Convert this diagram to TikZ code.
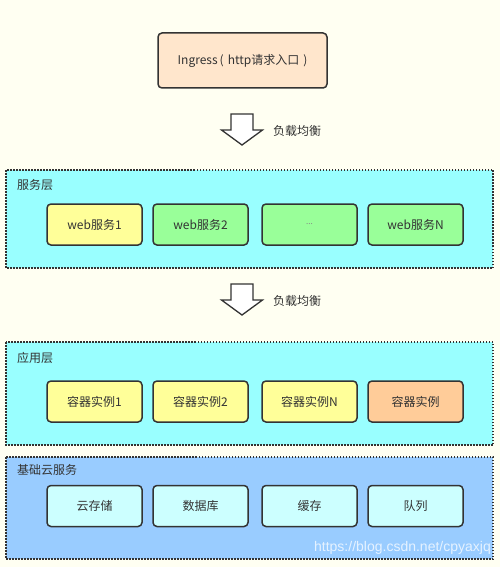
\documentclass[tikz,border=0pt]{standalone}
\usepackage{fontspec}
\setmainfont{Noto Sans CJK SC}
\newfontfamily\markfont{Liberation Sans}
\usepackage{tikz}
\definecolor{paper}{RGB}{255, 255, 242}
\definecolor{ink}{RGB}{51, 51, 51}
\definecolor{peach}{RGB}{255, 230, 204}
\definecolor{aqua}{RGB}{153, 255, 255}
\definecolor{sky}{RGB}{153, 204, 255}
\definecolor{lemon}{RGB}{255, 255, 153}
\definecolor{mint}{RGB}{153, 255, 153}
\definecolor{apricot}{RGB}{255, 204, 153}
\definecolor{ice}{RGB}{204, 255, 255}

\begin{document}
\begin{tikzpicture}[x=1pt, y=-1pt,
  unit/.style={draw=ink, line width=1.5pt, rounded corners=4pt,
    minimum width=95pt, minimum height=41pt, inner sep=0pt,
    text=ink, font=\fontsize{12}{12}\selectfont},
  layer/.style={draw=ink, line width=1.5pt, dash pattern=on 1.5pt off 1.5pt},
  caption/.style={anchor=west, inner sep=0pt, text=ink,
    font=\fontsize{12}{12}\selectfont},
  bigarrow/.style={draw=ink, line width=1.3pt, fill=white, line join=miter}]

  \fill[paper] (0, 0) rectangle (500, 567);
  \useasboundingbox (0, 0) rectangle (500, 567);

  % entry
  \node[unit, fill=peach, minimum width=169pt, minimum height=55pt]
    (ingress) at (242.5, 60.5) {Ingress\,(\,\,http请求入口\,\,)};

  % load balancing arrows
  \foreach \n/\y in {1/114, 2/284} {
    \begin{scope}[shift={(242, \y)}]
      \draw[bigarrow] (-11, 0) -- (11, 0) -- (11, 16) -- (20.5, 16)
                   -- (0, 31) -- (-20.5, 16) -- (-11, 16) -- cycle;
    \end{scope}
    \node[caption] (lb-\n) at (273, \y + 17) {负载均衡};
  }

  % service layer
  \draw[layer, fill=aqua] (6, 170) rectangle (493, 268);
  \node[caption] (svc-title) at (17, 185) {服务层};
  \foreach \n/\x/\c/\t in {1/94.5/lemon/web服务1, 2/200.5/mint/web服务2,
                           4/415.5/mint/web服务N} {
    \node[unit, fill=\c] (svc-\n) at (\x, 224.5) {\t};
  }
  \node[unit, fill=mint, font=\fontsize{8}{8}\selectfont, text=ink!60]
    (svc-3) at (309.5, 224.5) {...};

  % application layer
  \draw[layer, fill=aqua] (6, 342) rectangle (493, 445);
  \node[caption] (app-title) at (17, 358) {应用层};
  \foreach \n/\x/\c/\t in {1/94.5/lemon/容器实例1, 2/200.5/lemon/容器实例2,
                           3/309.5/lemon/容器实例N, 4/415.5/apricot/容器实例} {
    \node[unit, fill=\c] (app-\n) at (\x, 401.5) {\t};
  }

  % base cloud services
  \draw[layer, fill=sky] (6, 457) rectangle (493, 559);
  \node[caption] (base-title) at (17, 470) {基础云服务};
  \foreach \n/\x/\t in {1/94.5/云存储, 2/200.5/数据库, 3/309.5/缓存, 4/415.5/队列} {
    \node[unit, fill=ice] (base-\n) at (\x, 506) {\t};
  }

  \node[anchor=east, inner sep=0pt, text=white, opacity=0.75,
    font=\markfont\fontsize{14}{14}\selectfont]
    (mark) at (491, 548) {https://blog.csdn.net/cpyaxjq};

\end{tikzpicture}
\end{document}
